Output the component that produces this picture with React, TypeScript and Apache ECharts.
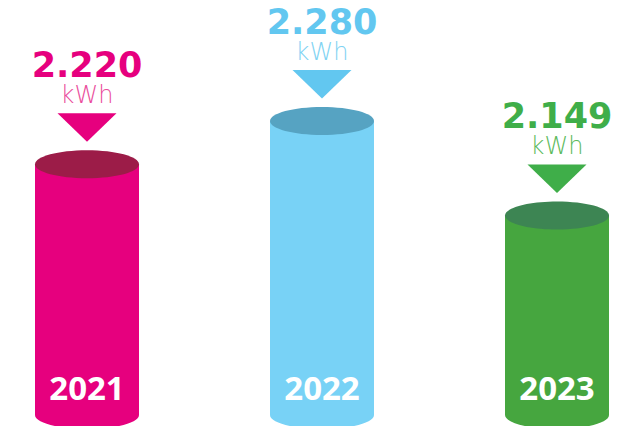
import React, { useEffect, useRef } from "react";
import * as echarts from "echarts";

const years = ["2021", "2022", "2023"];
const values = [2220, 2280, 2149];
const unit = "kWh";

const bodyColors = ["#e6007e", "#78d2f6", "#46a63f"];
const capColors = ["#9c1c48", "#56a3c2", "#3d8553"];
const valueColors = ["#e6007e", "#62c7f0", "#3fae49"];
const unitColors = ["#ea4d9c", "#7fd3f3", "#5cba5c"];

const Y_MIN = 1872;
const Y_MAX = 2411;

const fmt = (v: number) =>
  Math.floor(v / 1000) + "." + String(v % 1000).padStart(3, "0");

export default function App() {
  const ref = useRef<HTMLDivElement>(null);
  useEffect(() => {
    document.body.style.margin = "0";
    if (!ref.current) return;
    const chart = echarts.init(ref.current, null, { renderer: "svg" });
    const FONT = "'Open Sans', sans-serif";
    const WIDE = "'DejaVu Sans', sans-serif";
    chart.setOption({
      animation: false,
      backgroundColor: "#ffffff",
      grid: { left: 87, right: 68, top: 26.7, bottom: 11 },
      xAxis: { type: "category", data: years, boundaryGap: false, show: false },
      yAxis: { type: "value", min: Y_MIN, max: Y_MAX, show: false },
      series: [
        {
          type: "custom",
          clip: false,
          data: years.map((y, i) => [i, values[i]]),
          renderItem: (params: any, api: any) => {
            const i = params.dataIndex;
            const v = api.value(1);
            const [cx, top] = api.coord([api.value(0), v]);
            const [, bottom] = api.coord([api.value(0), Y_MIN]);
            const rx = 52;
            const ry = 14;
            return {
              type: "group",
              children: [
                {
                  type: "ellipse",
                  shape: { cx, cy: bottom, rx, ry },
                  style: { fill: bodyColors[i] },
                },
                {
                  type: "rect",
                  shape: { x: cx - rx, y: top, width: rx * 2, height: bottom - top },
                  style: { fill: bodyColors[i] },
                },
                {
                  type: "ellipse",
                  shape: { cx, cy: top, rx, ry },
                  style: { fill: capColors[i] },
                },
                {
                  type: "polygon",
                  shape: {
                    points: [
                      [cx - 29.5, top - 51],
                      [cx + 29.5, top - 51],
                      [cx, top - 22.5],
                    ],
                  },
                  style: { fill: valueColors[i] },
                },
                {
                  type: "text",
                  x: cx,
                  y: top - 69,
                  style: {
                    text: unit,
                    fill: unitColors[i],
                    font: `200 24px ${WIDE}`,
                    textAlign: "center",
                    textVerticalAlign: "middle",
                  },
                },
                {
                  type: "text",
                  x: cx,
                  y: top - 99,
                  style: {
                    text: fmt(values[i]),
                    fill: valueColors[i],
                    font: `bold 35px ${WIDE}`,
                    textAlign: "center",
                    textVerticalAlign: "middle",
                  },
                },
                {
                  type: "text",
                  x: cx,
                  y: bottom - 27.5,
                  style: {
                    text: years[i],
                    fill: "#ffffff",
                    font: `700 33px ${FONT}`,
                    textAlign: "center",
                    textVerticalAlign: "middle",
                  },
                },
              ],
            };
          },
        },
      ],
    });
    return () => chart.dispose();
  }, []);
  return <div ref={ref} style={{ width: 625, height: 426 }} />;
}
